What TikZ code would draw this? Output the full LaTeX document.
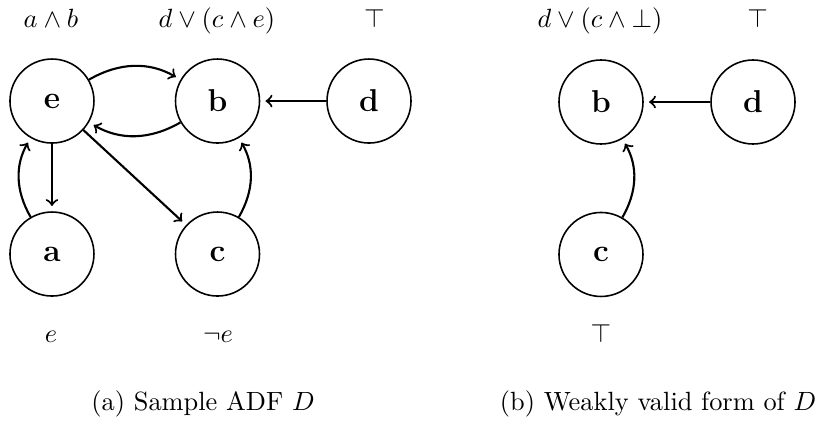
\documentclass[tikz,border=0pt]{standalone}
\usepackage{amssymb}
\begin{document}
\begin{tikzpicture}[
    arg/.style={
        circle,
        draw=black,
        semithick,
        minimum size=11.2mm,
        inner sep=0pt,
        font=\large\bfseries,
    },
    cond/.style={
        anchor=base,
        inner sep=0pt,
    },
    edge/.style={
        thick,
        draw=black,
        ->,
        shorten >=2pt
    }
]
    \useasboundingbox (0,0) rectangle (10.893,-5.653);

    % sample ADF
    \node[arg] (e) at (0.693, -1.347) {e};
    \node[arg] (b) at (2.9, -1.347) {b};
    \node[arg] (d) at (4.92, -1.347) {d};

    \node[arg] (a) at (0.693, -3.387) {a};
    \node[arg] (c) at (2.9, -3.387) {c};

    \node[cond] (ce) at (0.68, -0.373) {$a \wedge b$};
    \node[cond] (cb) at (2.893, -0.373) {$d \vee (c \wedge e)$};
    \node[cond] (cd) at (4.99, -0.373) {$\top$};
    \node[cond] (ca) at (0.68, -4.56) {$e$};
    \node[cond] (cc) at (2.907, -4.56) {$\neg e$};

    \draw[edge] (e) to[bend left=30] (b);
    \draw[edge] (b) to[bend left=30] (e);
    \draw[edge] (d) -- (b);
    \draw[edge] (e) -- (a);
    \draw[edge] (a) to[bend left=30] (e);
    \draw[edge] (e) -- (c);
    \draw[edge] (c) to[bend right=30] (b);

    \node[cond] (capa) at (2.707, -5.467) {(a) Sample ADF $D$};

    % weakly valid form
    \node[arg] (b2) at (8.013, -1.36) {b};
    \node[arg] (d2) at (10.04, -1.36) {d};
    \node[arg] (c2) at (8.013, -3.393) {c};

    \node[cond] (cb2) at (8.0, -0.373) {$d \vee (c \wedge \bot)$};
    \node[cond] (cd2) at (10.1, -0.373) {$\top$};
    \node[cond] (cc2) at (8.013, -4.56) {$\top$};

    \draw[edge] (d2) -- (b2);
    \draw[edge] (c2) to[bend right=30] (b2);

    \node[cond] (capb) at (8.773, -5.467) {(b) Weakly valid form of $D$};
\end{tikzpicture}
\end{document}
